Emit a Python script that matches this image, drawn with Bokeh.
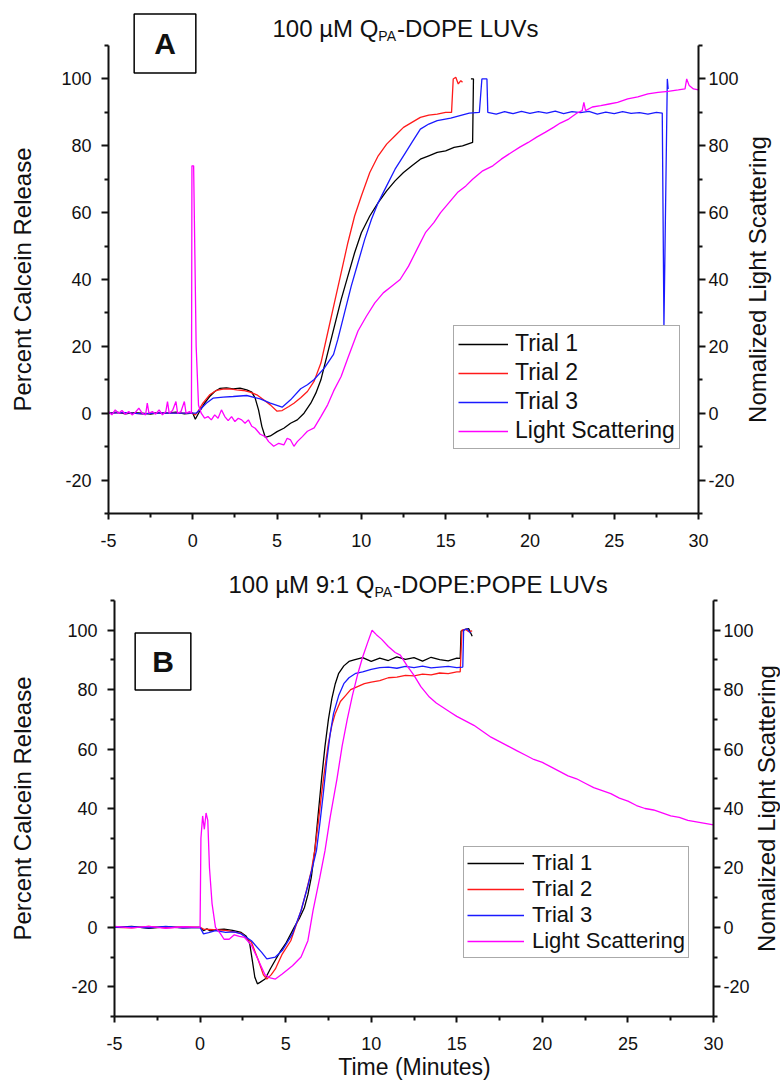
import math
from bokeh.plotting import figure
from bokeh.models import Range1d, LinearAxis, FixedTicker, Label, Plot
from bokeh.layouts import column
from bokeh.embed import file_html
from bokeh.resources import INLINE

FONT = "Liberation Sans"

# ---------------- data: panel A (100 uM QPA-DOPE LUVs) ----------------
A_t1_time = [-5, -4.5, -4, -3.5, -3, -2.5, -2, -1.5, -1, -0.5, 0, 0.15, 0.4, 0.7, 1.0, 1.3, 1.6,
             2.0, 2.4, 2.8, 3.2, 3.5, 3.7, 3.9, 4.1, 4.3, 4.6, 5.0, 5.4, 5.8, 6.2, 6.6, 7.0, 7.3,
             7.6, 8.0, 8.4, 8.8, 9.2, 9.6, 10.0, 10.5, 11.0, 11.5, 12.0, 12.5, 13.0, 13.5, 14.0,
             14.5, 15.0, 15.5, 16.0, 16.3, 16.6, 16.65, 16.5]
A_t1_val = [0, 0.3, -0.2, 0.2, 0, -0.3, 0.2, 0, 0.3, -0.2, 0, -1.8, 0.5, 3, 5, 6.5, 7.4,
            7.6, 7.3, 7.5, 7.0, 6.3, 4.5, 1, -4, -7.2, -6.8, -5.5, -4.5, -3, -2, 0, 3, 6,
            10, 18, 26, 34, 41, 48, 54, 59, 63, 66.5, 69.5, 72, 74, 76, 77,
            78, 78.5, 79.5, 80, 80.5, 81, 100, 100]

A_t2_time = [-5, -4, -3, -2, -1, 0, 0.15, 0.3, 0.6, 1.0, 1.4, 1.8, 2.2, 2.6, 3.0, 3.4, 3.8, 4.2,
             4.6, 5.0, 5.3, 5.7, 6.0, 6.4, 6.8, 7.2, 7.6, 8.0, 8.4, 8.8, 9.2, 9.6, 10.0, 10.5,
             11.0, 11.5, 12.0, 12.5, 13.0, 13.5, 14.0, 14.5, 15.0, 15.35, 15.45, 15.6, 15.75,
             15.9, 16.0]
A_t2_val = [0, 0.2, -0.2, 0.2, 0, 0, -0.5, 0.5, 3, 5.5, 6.8, 7.2, 7.3, 7.0, 6.8, 6.3, 5.5, 4,
            2.5, 0.6, 0.8, 2, 3, 4.6, 6.5, 9.6, 15, 24, 33, 42, 51, 59, 65, 72,
            77, 80.5, 83, 85.5, 87, 88.5, 89.2, 89.5, 90, 90, 100, 100.5, 98.5,
            99.5, 99]

A_t3_time = [-5, -4, -3, -2, -1, 0, 0.2, 0.45, 0.8, 1.2, 1.8, 2.4, 3.2, 4.0, 4.6, 5.3, 5.8, 6.4,
             6.8, 7.2, 7.8, 8.35, 8.6, 9.0, 9.4, 9.8, 10.2, 10.6, 11.0, 11.5, 12.0, 12.5, 13.0,
             13.5, 14.0, 14.5, 15.3, 16.4, 17.0, 17.15, 17.45, 17.5, 18.0, 18.5, 19.0, 19.5,
             20.0, 20.5, 21.0, 21.5, 22.0, 22.5, 23.0, 23.5, 24.0, 24.5, 25.0, 25.5, 26.0, 26.5,
             27.0, 27.5, 27.85, 27.95, 28.15, 28.2]
A_t3_val = [0, 0.2, -0.2, 0.1, 0, 0, 0, 1.2, 3, 4.5, 4.8, 5, 5.3, 4.3, 3, 1.8, 4, 7.3,
            8.5, 10.1, 13.5, 17.6, 22, 30, 38, 45, 52, 58, 63, 68, 73, 77, 81,
            85, 86.5, 87.5, 88.3, 89.8, 90, 100, 100, 90, 89.5, 90.2, 89.6, 90.3,
            89.7, 90.2, 89.8, 90.4, 89.6, 90.2, 89.9, 90.3, 89.5, 90.1, 89.6, 90.2, 89.7, 89.9,
            89.5, 90, 89.8, 26, 100, 97]

A_ls_time = [-5, -4.8, -4.6, -4.4, -4.2, -4, -3.8, -3.6, -3.4, -3.2, -3, -2.8, -2.7, -2.6, -2.4,
             -2.2, -2, -1.8, -1.6, -1.5, -1.4, -1.2, -1.0, -0.9, -0.7, -0.5, -0.4, -0.2, -0.08,
             -0.05, 0.05, 0.2, 0.34, 0.5, 0.7, 0.9, 1.1, 1.3, 1.5, 1.7, 1.9, 2.1, 2.3, 2.5, 2.7,
             2.9, 3.1, 3.3, 3.5, 3.7, 4.0, 4.3, 4.5, 4.8, 5.1, 5.4, 5.6, 5.8, 6.0, 6.2, 6.5, 6.8,
             7.2, 7.6, 8.0, 8.35, 8.8, 9.2, 9.8, 10.3, 10.8, 11.3, 11.8, 12.3, 12.8, 13.3, 13.8,
             14.3, 14.7, 15.2, 15.7, 16.2, 16.6, 17.2, 17.8, 18.3, 18.9, 19.4, 19.9, 20.4, 20.9,
             21.4, 21.8, 22.3, 22.8, 23.1, 23.2, 23.3, 23.7, 24.2, 24.7, 25.2, 25.8, 26.4, 27.0,
             27.6, 28.2, 28.8, 29.2, 29.3, 29.45, 29.7, 30]
A_ls_val = [0.5, -0.5, 1, 0, 0.8, -0.3, 0.5, -0.5, 0.3, 1.5, 0, -0.5, 3, 0, 0.5,
            -0.3, 1, -0.5, 0.5, 3.5, 0, 0.8, 3.5, 0, 0.5, 3.5, 0, 0.5, 0,
            74, 74, 20, 2.4, 0, -1.5, -1, -2, -0.5, -1.5, 1, -1, -2.2, -1, -2.5, -1.5,
            -2, -3, -2, -3.9, -4.5, -6.3, -7, -8.5, -9.9, -9, -9.5, -7.5, -8, -9.9, -8.5, -7, -5.4,
            -4.4, -1, 2.5, 6.6, 11, 16.5, 24.6, 29, 33, 36, 38, 40, 44, 49, 54,
            57, 60, 63, 66, 68, 70, 72.5, 74, 76, 78, 79.6, 81, 82.6, 84,
            85.5, 86.8, 88, 89.8, 90.5, 93, 90.5, 91.6, 92, 92.5, 93, 94, 94.6, 95.5,
            96, 96.3, 96.7, 97, 100, 98, 97, 96.7]

# ---------------- data: panel B (100 uM 9:1 QPA-DOPE:POPE LUVs) ----------------
B_t1_time = [-5, -4, -3, -2, -1, 0, 0.2, 0.4, 0.6, 1.0, 1.4, 1.9, 2.4, 2.7, 2.9, 3.05, 3.2, 3.35,
             3.5, 3.8, 4.1, 4.4, 4.7, 5.0, 5.5, 5.8, 6.1, 6.3, 6.5, 6.7, 6.9, 7.1, 7.3, 7.5, 7.7,
             7.9, 8.1, 8.4, 8.7, 9.0, 9.5, 10, 10.5, 11, 11.5, 12, 12.5, 13, 13.5, 14, 14.5,
             15.0, 15.2, 15.25, 15.5, 15.7, 15.9]
B_t1_val = [0, 0.3, -0.3, 0.2, -0.2, 0, -1.1, -0.5, -1.2, -0.8, -0.6, -1, -1.7, -3, -5.5, -11, -16.8, -19,
            -18.5, -17.4, -14, -11, -8, -5.5, 0, 3, 6.7, 11, 16.9, 25.8, 38, 50, 61, 70, 77,
            82, 85.5, 88, 89.5, 90, 90.8, 89.5, 90.6, 89.8, 91, 90.2, 90.8, 89.6, 90.9, 90.1, 89.7,
            90.6, 90.5, 99.7, 100.3, 100.5, 98]

B_t2_time = [-5, -4, -3, -2, -1, 0, 0.2, 0.8, 1.5, 2.4, 3.0, 3.4, 3.7, 3.9, 4.15, 4.4, 4.8, 5.3,
             5.9, 6.2, 6.5, 6.7, 6.9, 7.1, 7.3, 7.5, 7.7, 7.9, 8.2, 8.5, 8.8, 9.2, 9.6, 10, 10.5,
             11, 11.5, 12, 12.5, 13, 13.5, 14, 14.5, 15, 15.2, 15.3, 15.5, 15.7, 15.9]
B_t2_val = [0, -0.2, 0.3, -0.2, 0.2, 0, -0.6, -0.8, -1, -2, -5, -11, -16, -17.4, -16, -14, -9, -4.5,
            5.6, 12, 19, 25.8, 35, 45, 54, 62, 68, 72, 76, 78, 80, 81, 82, 82.5, 83,
            84, 84.2, 84.8, 84.6, 85.2, 85, 85.6, 85.4, 86, 86, 100, 100.3, 99.5, 99.8]

B_t3_time = [-5, -4, -3, -2, -1, 0, 0.2, 0.5, 0.9, 1.5, 2.0, 2.4, 3.0, 3.6, 3.9, 4.4, 4.8, 5.4,
             5.9, 6.3, 6.6, 6.8, 7.0, 7.2, 7.4, 7.6, 7.8, 8.1, 8.4, 8.7, 9.1, 9.5, 10, 10.5, 11,
             11.5, 12, 12.5, 13, 13.5, 14, 14.5, 15, 15.35, 15.4, 15.6, 15.8]
B_t3_val = [0, 0.2, -0.2, 0.3, -0.2, 0, -2.2, -1.8, -1.1, -1.7, -1.5, -2.2, -4.5, -8.4, -10.6, -10, -7.8, -2.2,
            5.6, 14, 21, 25.8, 35, 45, 56, 65, 72, 78, 82, 84, 85.5, 86, 86.8, 87.4, 87.6,
            87.2, 87.8, 87.4, 87.9, 87.3, 87.6, 87.8, 87.4, 87.6, 100, 100.5, 99]

B_ls_time = [-5, -4, -3, -2, -1, 0, 0.05, 0.15, 0.25, 0.35, 0.45, 0.55, 0.7, 0.9, 1.2, 1.4, 1.7,
             2.0, 2.3, 2.6, 3.0, 3.4, 3.8, 4.1, 4.4, 4.8, 5.4, 5.9, 6.3, 6.6, 7.0, 7.3, 7.6, 8.0,
             8.3, 8.6, 8.9, 9.2, 9.5, 9.8, 10.05, 10.3, 10.6, 11.0, 11.4, 11.7, 12.1, 12.5, 12.9,
             13.4, 13.8, 14.2, 14.6, 15, 15.5, 16, 16.5, 17, 17.5, 18, 18.5, 19, 19.5, 20, 20.5,
             21, 21.5, 22, 22.5, 23, 23.5, 24, 24.5, 25, 25.5, 26, 26.5, 27, 27.5, 28, 28.5, 29,
             29.5, 30]
B_ls_val = [0.3, -0.2, 0.3, -0.3, 0.2, 0, 30, 37.5, 33, 38.5, 36, 20, 8, 0, -2.2, -4, -4,
            -2.5, -3, -3.4, -6, -11, -16, -17, -17.4, -15.7, -12.9, -10, -4.5, 5.6, 16.9, 25.8, 37, 50,
            61, 70, 78, 85, 91, 96, 100, 98.5, 97, 94.5, 92.5, 91.6, 88, 84.8, 81,
            77.5, 75.5, 74, 72.5, 71, 69.5, 68, 66, 64, 62.5, 61, 59.5, 58, 56.5, 55.5, 54,
            52.5, 51, 50, 48.5, 47, 46, 45, 43.5, 42.5, 41, 40, 39.5, 38.5, 37.5, 37, 36, 35.5,
            35, 34.5]

X_BOUNDS = (-5, 30)
Y_BOUNDS = (-30, 110)
X_TICKS = [-5, 0, 5, 10, 15, 20, 25, 30]
X_MINOR = [-2.5, 2.5, 7.5, 12.5, 17.5, 22.5, 27.5]
Y_TICKS = [-20, 0, 20, 40, 60, 80, 100]
Y_MINOR = [-30, -10, 10, 30, 50, 70, 90, 110]
SERIES_NAMES = ["Trial 1", "Trial 2", "Trial 3", "Light Scattering"]
SERIES_COLORS = ["#000000", "#ff1a1a", "#1a1aff", "#ff00ff"]

Y_LABEL = "Percent Calcein Release"
Y2_LABEL = "Nomalized Light Scattering"
X_LABEL = "Time (Minutes)"
TITLE_A = ["100 \u00b5M Q", "PA", "-DOPE LUVs"]
TITLE_B = ["100 \u00b5M 9:1 Q", "PA", "-DOPE:POPE LUVs"]

HAS_FRAME_ALIGN = "frame_align" in Plot.properties()


def hyphen_overrides(ticks):
    return {t: str(t).replace("\u2212", "-") for t in ticks if t < 0}


def style_axis(ax, ticks, minor, tick_out=7, standoff=10):
    ax.ticker = FixedTicker(ticks=ticks, minor_ticks=minor)
    ax.major_label_overrides = hyphen_overrides(ticks)
    ax.axis_line_width = 2
    ax.axis_line_color = "#111111"
    ax.major_tick_line_width = 2
    ax.minor_tick_line_width = 2
    ax.major_tick_line_color = "#111111"
    ax.minor_tick_line_color = "#111111"
    ax.major_tick_out = tick_out
    ax.major_tick_in = 0
    ax.minor_tick_out = 4
    ax.minor_tick_in = 0
    ax.major_label_standoff = standoff
    ax.major_label_text_font = FONT
    ax.major_label_text_font_size = "18px"
    ax.major_label_text_color = "#111111"


def ranges_for(cw, ch, px_left, px_right, py_top, py_bottom):
    """Layout helper: data ranges so that the axes' bounds fall on the wanted pixels
    while the plot frame covers the whole canvas."""
    sx = (px_right - px_left) / (X_BOUNDS[1] - X_BOUNDS[0])
    sy = (py_bottom - py_top) / (Y_BOUNDS[1] - Y_BOUNDS[0])
    xr = (X_BOUNDS[0] - px_left / sx, X_BOUNDS[1] + (cw - px_right) / sx)
    yr = (Y_BOUNDS[0] - (ch - py_bottom) / sy, Y_BOUNDS[1] + py_top / sy)
    return xr, yr


def txt_label(x, y, text, size, angle=0.0, align="center", bold=False, **extra):
    return Label(x=x, y=y, x_units="screen", y_units="screen", text=text, angle=angle,
                 text_font=FONT, text_font_size=f"{size}px", text_color="#111111",
                 text_font_style="bold" if bold else "normal",
                 text_align=align, text_baseline="middle", **extra)


def make_panel(cw, ch, frame_px, series, title, title_cfg, box_text, box_cfg, legend_cfg,
               y_label_pos, y2_label_pos, x_label_pos, xtick_standoff):
    xr, yr = ranges_for(cw, ch, *frame_px)
    extra = {"frame_align": False} if HAS_FRAME_ALIGN else {}
    p = figure(width=cw, height=ch, x_range=Range1d(*xr), y_range=Range1d(*yr),
               output_backend="svg", toolbar_location=None,
               min_border_left=0, min_border_right=0, min_border_top=0, min_border_bottom=0,
               **extra)
    p.extra_y_ranges = {"ls": Range1d(*yr)}
    p.outline_line_color = None
    p.xgrid.visible = False
    p.ygrid.visible = False
    p.background_fill_color = "white"
    p.border_fill_color = "white"

    xa = p.xaxis[0]
    style_axis(xa, X_TICKS, X_MINOR, tick_out=6, standoff=xtick_standoff)
    xa.fixed_location = Y_BOUNDS[0]
    xa.bounds = X_BOUNDS

    ya = p.yaxis[0]
    style_axis(ya, Y_TICKS, Y_MINOR, tick_out=7, standoff=10)
    ya.fixed_location = X_BOUNDS[0]
    ya.bounds = Y_BOUNDS

    ax2 = LinearAxis(y_range_name="ls")
    style_axis(ax2, Y_TICKS, Y_MINOR, tick_out=7, standoff=3)
    ax2.fixed_location = X_BOUNDS[1]
    ax2.bounds = Y_BOUNDS
    p.add_layout(ax2, "right")

    for (tt, vv), name, color in zip(series, SERIES_NAMES, SERIES_COLORS):
        kw = {"y_range_name": "ls"} if name == "Light Scattering" else {}
        p.line(tt, vv, line_color=color, line_width=1.3, legend_label=name, **kw)

    lg = p.legend[0]
    lg.location = legend_cfg[0]
    lg.padding = legend_cfg[1]
    lg.spacing = legend_cfg[2]
    lg.label_text_font_size = legend_cfg[3]
    lg.glyph_width = legend_cfg[4]
    lg.label_standoff = legend_cfg[5]
    lg.label_text_font = FONT
    lg.label_text_color = "#111111"
    lg.margin = 0
    lg.border_line_color = "#555555"
    lg.border_line_width = 1
    lg.background_fill_alpha = 1.0

    # title with subscript "PA"
    x_cur, y_main, y_sub, w_first, w_sub = title_cfg
    p.add_layout(txt_label(x_cur, y_main, title[0], 24, align="left"))
    p.add_layout(txt_label(x_cur + w_first, y_sub, title[1], 14, align="left"))
    p.add_layout(txt_label(x_cur + w_first + w_sub, y_main, title[2], 24, align="left"))

    # panel letter box
    bx, by, padx, pady = box_cfg
    p.add_layout(txt_label(bx, by, box_text, 30, bold=True, border_line_color="black",
                           border_line_width=1.5, background_fill_color="white",
                           padding=dict(left=padx, right=padx, top=pady, bottom=pady)))

    # axis titles
    p.add_layout(txt_label(y_label_pos[0], y_label_pos[1], Y_LABEL, 24, angle=math.pi / 2))
    p.add_layout(txt_label(y2_label_pos[0], y2_label_pos[1], Y2_LABEL, 24, angle=math.pi / 2))
    if x_label_pos is not None:
        p.add_layout(txt_label(x_label_pos[0], x_label_pos[1], X_LABEL, 23))
    return p


def em(units, size):
    return units * size / 1000.0


# Panel A: canvas 772x557 at page y 0; axes x 108..698, y(110)=45, y(-30)=513
HA = 557
pA = make_panel(772, HA, (108, 698, 45, 513),
                [(A_t1_time, A_t1_val), (A_t2_time, A_t2_val), (A_t3_time, A_t3_val),
                 (A_ls_time, A_ls_val)],
                TITLE_A, (272, HA - 27.5, HA - 35, em(4411, 24), em(1334, 14)),
                "A", (164.5, HA - 43, 20, 13),
                ((453, HA - 449), 4, 2, "23px", 50, 7),
                (22, HA - 279), (757, HA - 279), None, 14)

# Panel B: canvas 780x523 at page y 557; axes x 114..713, y(110)=600, y(-30)=1016
TB = 557
HB = 523
pB = make_panel(780, HB, (114, 713, 600 - TB, 1016 - TB),
                [(B_t1_time, B_t1_val), (B_t2_time, B_t2_val), (B_t3_time, B_t3_val),
                 (B_ls_time, B_ls_val)],
                TITLE_B, (228, TB + HB - 584, TB + HB - 591.5, em(6079, 24), em(1334, 14)),
                "B", (162.5, TB + HB - 661, 17, 12),
                ((463, TB + HB - 958), 3, 0, "22px", 57, 8),
                (22, TB + HB - 808), (766, TB + HB - 808), (414, TB + HB - 1066), 14)

layout = column(pA, pB, spacing=0)
open("out.html", "w").write(file_html(layout, INLINE))
